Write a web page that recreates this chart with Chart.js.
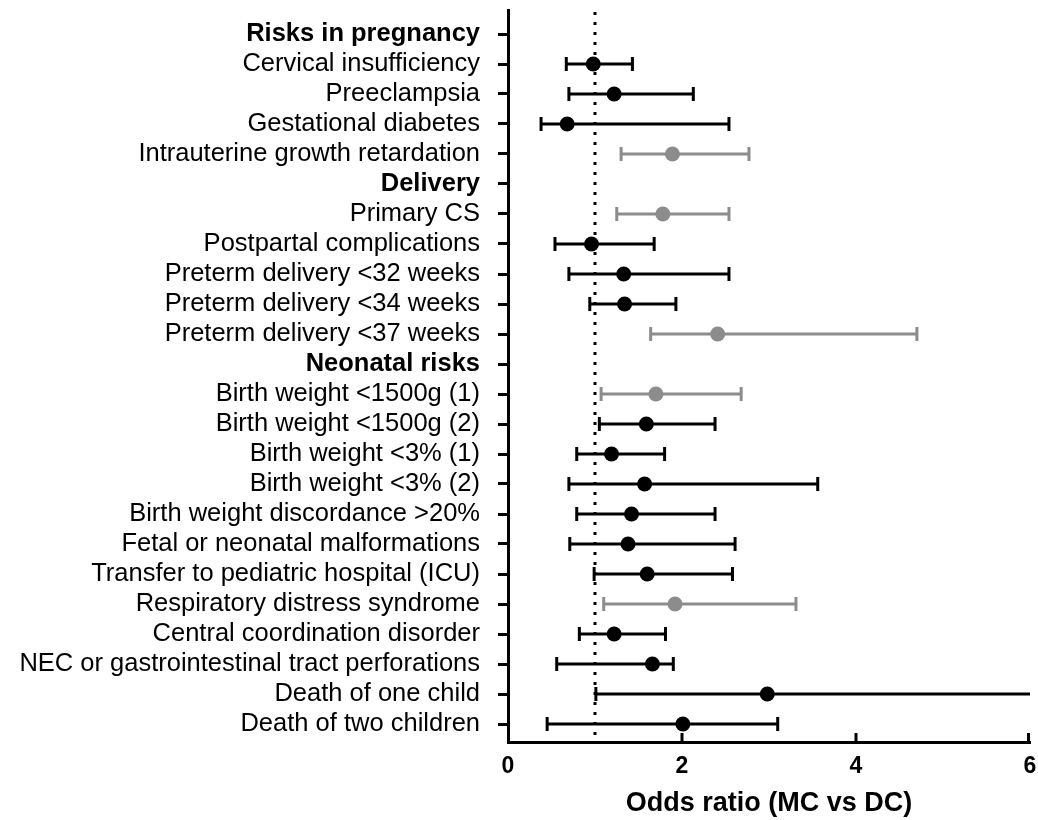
<!DOCTYPE html>
<html><head><meta charset="utf-8">
<script src="https://cdn.jsdelivr.net/npm/chart.js@4"></script>
<style>html,body{margin:0;padding:0;background:#fff}#wrap{width:1038px;height:820px}</style>
</head><body><div id="wrap"><canvas id="c" width="1038" height="820"></canvas></div>
<script>
const categories = [
  "Risks in pregnancy",
  "Cervical insufficiency",
  "Preeclampsia",
  "Gestational diabetes",
  "Intrauterine growth retardation",
  "Delivery",
  "Primary CS",
  "Postpartal complications",
  "Preterm delivery <32 weeks",
  "Preterm delivery <34 weeks",
  "Preterm delivery <37 weeks",
  "Neonatal risks",
  "Birth weight <1500g (1)",
  "Birth weight <1500g (2)",
  "Birth weight <3% (1)",
  "Birth weight <3% (2)",
  "Birth weight discordance >20%",
  "Fetal or neonatal malformations",
  "Transfer to pediatric hospital (ICU)",
  "Respiratory distress syndrome",
  "Central coordination disorder",
  "NEC or gastrointestinal tract perforations",
  "Death of one child",
  "Death of two children"
];
const headerRows = [0, 5, 11];
const oddsRatio = [null,0.98,1.22,0.68,1.89,null,1.78,0.96,1.33,1.34,2.41,null,1.70,1.59,1.19,1.57,1.42,1.38,1.60,1.92,1.22,1.66,2.98,2.01];
const ciLower   = [null,0.67,0.70,0.38,1.30,null,1.25,0.54,0.70,0.94,1.64,null,1.07,1.05,0.79,0.70,0.79,0.71,0.99,1.10,0.82,0.56,1.01,0.45];
const ciUpper   = [null,1.43,2.13,2.54,2.77,null,2.54,1.68,2.54,1.93,4.70,null,2.68,2.38,1.80,3.56,2.38,2.61,2.58,3.31,1.81,1.90,6.40,3.10];
const highlighted = [0,0,0,0,1,0,1,0,0,0,1,0,1,0,0,0,0,0,0,1,0,0,0,0];
const xTicks = [0, 2, 4, 6];
const referenceOR = 1;
const axisTitle = "Odds ratio (MC vs DC)";

const FONT = "'Liberation Sans', Arial, Helvetica, sans-serif";
const BLACK = "#000000";
const GREY = "#8c8c8c";

function pointsFor(flag) {
  const out = [];
  oddsRatio.forEach((v, i) => {
    if (v !== null && highlighted[i] === flag) out.push({x: v, y: i, lo: ciLower[i], hi: ciUpper[i]});
  });
  return out;
}

const refLine = {
  id: 'refLine',
  beforeDatasetsDraw(chart) {
    const {ctx, chartArea, scales: {x}} = chart;
    const px = x.getPixelForValue(referenceOR);
    ctx.save();
    ctx.strokeStyle = BLACK;
    ctx.lineWidth = 3;
    ctx.setLineDash([3, 7]);
    ctx.beginPath();
    ctx.moveTo(px, chartArea.top + 2);
    ctx.lineTo(px, chartArea.bottom);
    ctx.stroke();
    ctx.restore();
  }
};

const errorBars = {
  id: 'errorBars',
  beforeDatasetsDraw(chart) {
    const {ctx, chartArea, scales: {x, y}} = chart;
    ctx.save();
    ctx.beginPath();
    ctx.rect(chartArea.left, chartArea.top - 20, chartArea.right - chartArea.left, chartArea.bottom - chartArea.top + 40);
    ctx.clip();
    chart.data.datasets.forEach(ds => {
      ctx.strokeStyle = ds.borderColor;
      ctx.lineWidth = 3;
      ds.data.forEach(p => {
        const py = y.getPixelForValue(p.y);
        const x1 = x.getPixelForValue(p.lo), x2 = x.getPixelForValue(p.hi);
        ctx.beginPath(); ctx.moveTo(x1, py); ctx.lineTo(x2, py); ctx.stroke();
        [p.lo, p.hi].forEach(v => {
          if (v >= x.min && v <= x.max) {
            const cx = x.getPixelForValue(v);
            ctx.beginPath(); ctx.moveTo(cx, py - 7); ctx.lineTo(cx, py + 7); ctx.stroke();
          }
        });
      });
    });
    ctx.restore();
  }
};

const innerTicks = {
  id: 'innerTicks',
  afterDraw(chart) {
    const {ctx, chartArea, scales: {x}} = chart;
    ctx.save();
    ctx.strokeStyle = BLACK;
    ctx.lineWidth = 3;
    xTicks.forEach(v => {
      if (v <= x.min) return;
      const px = Math.min(x.getPixelForValue(v), chartArea.right - 1.5);
      ctx.beginPath(); ctx.moveTo(px, chartArea.bottom); ctx.lineTo(px, chartArea.bottom - 9); ctx.stroke();
    });
    ctx.restore();
  }
};

new Chart(document.getElementById('c'), {
  type: 'scatter',
  data: {
    datasets: [
      {label: 'not significant', data: pointsFor(0), backgroundColor: BLACK, borderColor: BLACK, pointRadius: 7.5, pointHoverRadius: 7.5, borderWidth: 0},
      {label: 'significant', data: pointsFor(1), backgroundColor: GREY, borderColor: GREY, pointRadius: 7.5, pointHoverRadius: 7.5, borderWidth: 0}
    ]
  },
  options: {
    responsive: false,
    animation: false,
    devicePixelRatio: 1,
    layout: {padding: {top: 10, right: 8, bottom: 0, left: 0}},
    plugins: {legend: {display: false}, tooltip: {enabled: false}},
    scales: {
      x: {
        type: 'linear', min: 0, max: 6,
        afterBuildTicks: axis => { axis.ticks = xTicks.map(v => ({value: v})); },
        afterFit: scale => { scale.height = 78; scale.paddingLeft = 0; scale.paddingRight = 0; },
        grid: {display: false, drawTicks: false},
        border: {display: true, color: BLACK, width: 3},
        ticks: {color: BLACK, padding: 11, font: {family: FONT, size: 23, weight: 'bold'}, maxRotation: 0},
        title: {display: true, text: axisTitle, color: BLACK, font: {family: FONT, size: 27, weight: 'bold'}, padding: {top: 0, bottom: 0}}
      },
      y: {
        type: 'linear', min: -0.8, max: 23.6, reverse: true,
        afterBuildTicks: axis => { axis.ticks = categories.map((_, i) => ({value: i})); },
        afterFit: scale => { scale.width = 508; scale.paddingTop = 0; scale.paddingBottom = 0; },
        grid: {display: true, drawOnChartArea: false, drawTicks: true, tickLength: 10, lineWidth: 3, color: BLACK},
        border: {display: true, color: BLACK, width: 3},
        ticks: {
          color: BLACK, padding: 18, autoSkip: false,
          callback: v => categories[v],
          font: ctx => ({family: FONT, size: 25.5, weight: headerRows.includes(ctx.tick ? ctx.tick.value : ctx.index) ? 'bold' : 'normal'})
        }
      }
    }
  },
  plugins: [refLine, errorBars, innerTicks]
});
</script>
</body></html>
